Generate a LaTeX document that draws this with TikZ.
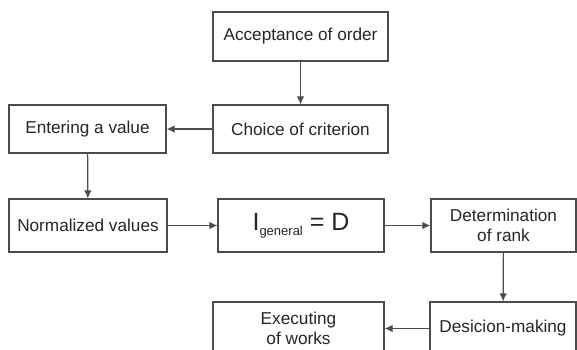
\documentclass[tikz,border=0pt]{standalone}
\usepackage{fontspec}
\setmainfont{Liberation Sans}
\usetikzlibrary{arrows.meta}
\tikzset{
    blok/.style={draw=black!70, line width=1.2pt, fill=white, inner sep=0pt, align=center,
        text=black!85, font=\fontsize{17.2}{20}\selectfont},
    pijl/.style={draw=black!70, line width=1.2pt, -{Latex[length=8pt,width=7.5pt]}}
}
\newcommand{\igen}{{\fontsize{25}{30}\selectfont I\raisebox{-5pt}{\fontsize{13}{16}\selectfont general} = D}}

\begin{document}
\begin{tikzpicture}[x=1pt,y=-1pt]
    \useasboundingbox (0,0) rectangle (577,349);
    \clip (0,0) rectangle (577,349);
    % boxes
    \node[blok, minimum width=175, minimum height=49] (accept) at (300.5,36.5) {Acceptance of order};
    \node[blok, minimum width=175, minimum height=48] (choice) at (300.5,129) {Choice of criterion};
    \node[blok, minimum width=157, minimum height=48] (enter) at (87.5,129) {Entering a value};
    \node[blok, minimum width=158, minimum height=53] (norm) at (88,225.5) {Normalized values};
    \node[blok, minimum width=166, minimum height=53] (igen) at (301,225.5) {\igen};
    \node[blok, minimum width=145, minimum height=53] (rank) at (503.5,225.5) {Determination\\of rank};
    \node[blok, minimum width=146, minimum height=53] (decide) at (503,328.5) {Desicion-making};
    \node[blok, minimum width=171, minimum height=53] (exec) at (298.5,328.5) {Executing\\of works};
    % arrows
    \draw[pijl] (accept) -- (choice);
    \draw[pijl] (choice) -- (enter);
    \draw[pijl] (enter) -- (norm);
    \draw[pijl] (norm) -- (igen);
    \draw[pijl] (igen) -- (rank);
    \draw[pijl] (rank) -- (decide);
    \draw[pijl] (decide) -- (exec);
\end{tikzpicture}
\end{document}
